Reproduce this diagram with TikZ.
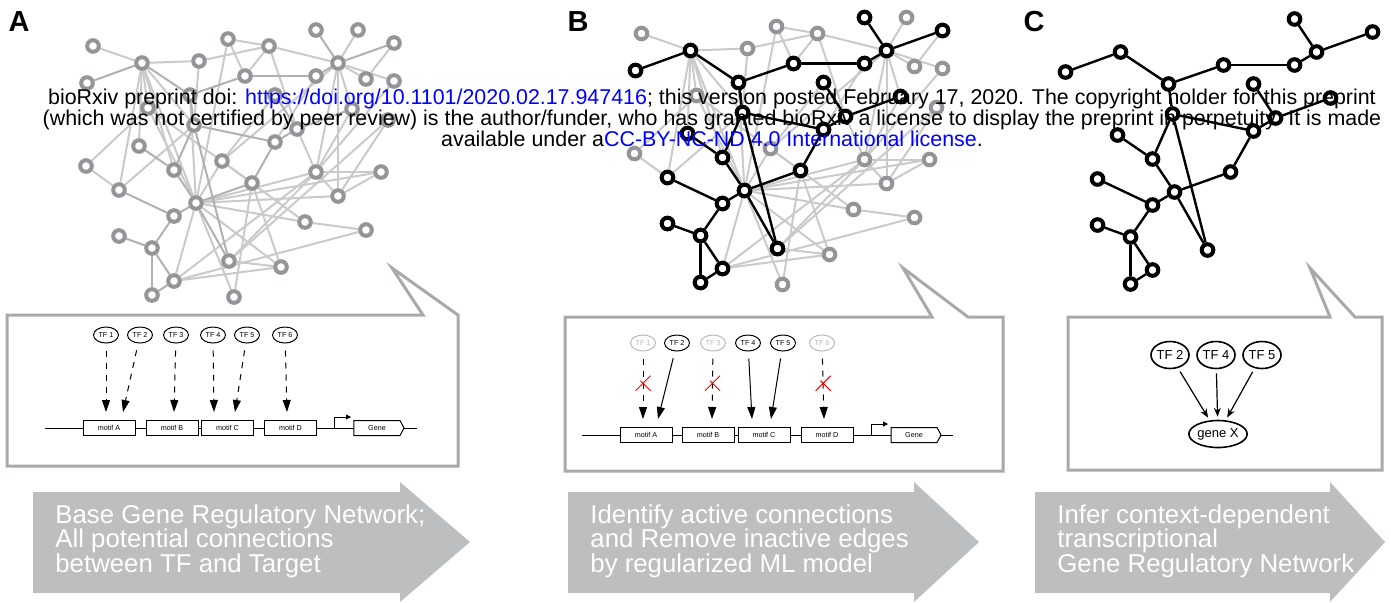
\documentclass[tikz,border=0pt]{standalone}
\usepackage{fontspec}
\setmainfont{Liberation Sans}
\usetikzlibrary{shapes.geometric,shapes.symbols,shapes.misc,arrows.meta}
\pgfdeclarelayer{bg}
\pgfsetlayers{bg,main}
\definecolor{nodegrey}{HTML}{939598}
\definecolor{edgegrey}{HTML}{CACACA}
\definecolor{edgedark}{HTML}{B0B1B3}
\definecolor{boxgrey}{HTML}{A7A9AC}
\definecolor{arrowgrey}{HTML}{BCBEC0}
\definecolor{tfgrey}{HTML}{B8B8B8}
\def\netpos{1/93/46,2/142/63,3/87/83,4/199/61,5/228/39,6/269/46,7/245/76,8/190/95,
  9/316/30,10/358/30,11/394/43,12/338/63,13/316/76,14/366/79,15/394/81,16/148/108,
  17/275/95,18/352/109,19/194/125,20/297/129,21/275/142,22/388/120,23/139/146,
  24/86/166,25/222/161,26/174/170,27/316/172,28/381/172,29/252/183,30/119/190,
  31/196/203,32/338/196,33/174/216,34/305/222,35/366/230,36/119/236,37/152/248,
  38/229/261,39/281/267,40/174/281,41/152/295,42/234/297}
\def\greyedges{1/2,2/4,2/16,2/23,2/26,2/30,2/31,2/19,4/19,4/6,5/6,5/7,5/31,6/7,
  6/12,6/20,10/12,11/14,12/14,12/15,12/18,12/25,12/27,12/32,15/27,16/24,16/31,
  16/29,17/25,18/27,22/32,22/38,24/30,30/19,25/31,25/34,27/28,27/32,28/32,28/31,
  27/31,31/32,31/34,31/39,31/42,31/40,29/39,34/35,35/40,38/39,38/27,40/39,40/27,
  42/29,13/21,8/31,20/27}
\def\blackedges{9/12,12/11,12/13,13/7,7/8,8/2,2/3,8/19,19/38,19/26,19/21,17/20,
  20/18,20/21,21/29,29/31,31/26,31/38,23/26,31/33,30/33,33/37,36/37,37/40,37/41,40/41}
\def\blacknodes{2,3,7,8,9,11,12,13,17,18,19,20,21,23,26,29,30,31,33,36,37,38,40,41}

\tikzset{
  greynode/.style={circle,draw=nodegrey,line width=2pt,fill=white,inner sep=0pt,minimum size=5.8pt},
  blacknode/.style={circle,draw=black,line width=2pt,fill=white,inner sep=0pt,minimum size=5.8pt},
  greyedge/.style={draw=edgegrey,line width=1pt},
  blackedge/.style={draw=black,line width=1.2pt},
  callout/.style={draw=boxgrey,line width=1.5pt,line join=miter},
  tf/.style={ellipse,draw,line width=0.5pt,inner sep=0pt,minimum width=12.5pt,minimum height=8pt,
    font=\fontsize{3.6}{4}\selectfont},
  tfoff/.style={tf,draw=tfgrey,text=tfgrey},
  motif/.style={draw,fill=white,line width=0.5pt,inner sep=0pt,minimum width=26pt,minimum height=7.5pt,
    font=\fontsize{3.6}{4}\selectfont},
  gene/.style={signal,signal to=east,signal pointer angle=124,draw,fill=white,line width=0.5pt,
    inner sep=0pt,minimum width=25pt,minimum height=7.5pt,font=\fontsize{3.6}{4}\selectfont},
  dna/.style={line width=0.5pt},
  tfarrow/.style={line width=0.5pt,-{Triangle[length=6pt,width=4pt]},shorten <=3.5pt},
  xmark/.style={cross out,solid,draw=red,line width=0.5pt,inner sep=0pt,minimum size=7pt},
  tfbig/.style={ellipse,draw,line width=0.8pt,inner sep=0pt,minimum width=19pt,minimum height=13.5pt,
    font=\fontsize{6.5}{7}\selectfont},
  panel/.style={font=\fontsize{14.5}{16}\selectfont\bfseries},
  steptext/.style={anchor=west,align=left,text=white,inner sep=0pt,font=\fontsize{12.9}{12.25}\selectfont}
}

\begin{document}
\begin{tikzpicture}[x=0.5pt,y=-0.5pt]
  \useasboundingbox (0,0) rectangle (1391,602);

  \foreach \i/\x/\y in \netpos \node[greynode] (a\i) at (\x,\y) {};
  \foreach \i/\x/\y in \netpos \node[greynode] (b\i) at (\x+548.5,\y-12.5) {};
  \foreach \i in \blacknodes \node[blacknode] (b\i) at (b\i) {};
  \foreach \i/\x/\y in \netpos \coordinate (cc\i) at (\x+978.5,\y-11);
  \foreach \i in \blacknodes \node[blacknode] (c\i) at (cc\i) {};
  \begin{pgfonlayer}{bg}
    \foreach \u/\v in \greyedges \draw[greyedge] (a\u) -- (a\v);
    \foreach \u/\v in \blackedges \draw[greyedge,draw=edgedark] (a\u) -- (a\v);
    \foreach \u/\v in \greyedges \draw[greyedge] (b\u) -- (b\v);
    \foreach \u/\v in \blackedges \draw[blackedge] (b\u) -- (b\v);
    \foreach \u/\v in \blackedges \draw[blackedge] (c\u) -- (c\v);
  \end{pgfonlayer}

  \node[panel] (la) at (19,22) {A};
  \node[panel] (lb) at (578,22) {B};
  \node[panel] (lc) at (1034,22) {C};

  \draw[callout] (7,315) -- (423,315) -- (392,268) -- (458,315) -- (458,466) -- (7,466) -- cycle;
  \draw[callout] (565,317) -- (932,317) -- (903,268) -- (968,317) -- (1003,317) -- (1003,471) -- (565,471) -- cycle;
  \draw[callout] (1068,317) -- (1330,317) -- (1310,268) -- (1355,317) -- (1382,317) -- (1382,470) -- (1068,470) -- cycle;

  \coordinate (dnaa0) at (45,428);
  \coordinate (dnaa1) at (417,428);
  \draw[dna] (dnaa0) -- (dnaa1);
  \node[motif] (ma1) at (109,428) {motif A};
  \node[motif] (ma2) at (172,428) {motif B};
  \node[motif] (ma3) at (227.5,428) {motif C};
  \node[motif] (ma4) at (290.5,428) {motif D};
  \coordinate (pa) at (334,428);
  \draw[dna,-{Triangle[length=2.5pt,width=2.5pt]}] (pa) |- ++(17,-11);
  \node[gene] (ga) at (377,428) {Gene};
  \node[tf] (ta1) at (106,335) {TF 1};
  \node[tf] (ta2) at (140,335) {TF 2};
  \node[tf] (ta3) at (176,335) {TF 3};
  \node[tf] (ta4) at (213,335) {TF 4};
  \node[tf] (ta5) at (247,335) {TF 5};
  \node[tf] (ta6) at (285,335) {TF 6};
  \draw[tfarrow,dashed] (ta1) -- ([xshift=-1.5pt,yshift=4pt]ma1.north);
  \draw[tfarrow,dashed] (ta2) -- ([xshift=7pt,yshift=4pt]ma1.north);
  \draw[tfarrow,dashed] (ta3) -- ([xshift=1pt,yshift=4pt]ma2.north);
  \draw[tfarrow,dashed] (ta4) -- ([xshift=-6.75pt,yshift=4pt]ma3.north);
  \draw[tfarrow,dashed] (ta5) -- ([xshift=3.75pt,yshift=4pt]ma3.north);
  \draw[tfarrow,dashed] (ta6) -- ([xshift=-1.75pt,yshift=4pt]ma4.north);

  \coordinate (dnab0) at (582,435);
  \coordinate (dnab1) at (953,435);
  \draw[dna] (dnab0) -- (dnab1);
  \node[motif] (mb1) at (646,435) {motif A};
  \node[motif] (mb2) at (708,435) {motif B};
  \node[motif] (mb3) at (764,435) {motif C};
  \node[motif] (mb4) at (827,435) {motif D};
  \coordinate (pb) at (871,435);
  \draw[dna,-{Triangle[length=2.5pt,width=2.5pt]}] (pb) |- ++(17,-11);
  \node[gene] (gb) at (914,435) {Gene};
  \node[tfoff] (tb1) at (643,343) {TF 1};
  \node[tf] (tb2) at (677,343) {TF 2};
  \node[tfoff] (tb3) at (713,343) {TF 3};
  \node[tf] (tb4) at (748,343) {TF 4};
  \node[tf] (tb5) at (783,343) {TF 5};
  \node[tfoff] (tb6) at (822,343) {TF 6};
  \draw[tfarrow,dashed] (tb1) -- ([xshift=-1.5pt,yshift=4pt]mb1.north) node[xmark,pos=0.47] (xb1) {};
  \draw[tfarrow] (tb2) -- ([xshift=6pt,yshift=4pt]mb1.north);
  \draw[tfarrow,dashed] (tb3) -- ([xshift=2pt,yshift=4pt]mb2.north) node[xmark,pos=0.47] (xb3) {};
  \draw[tfarrow] (tb4) -- ([xshift=-6pt,yshift=4pt]mb3.north);
  \draw[tfarrow] (tb5) -- ([xshift=3.5pt,yshift=4pt]mb3.north);
  \draw[tfarrow,dashed] (tb6) -- ([xshift=-1.5pt,yshift=4pt]mb4.north) node[xmark,pos=0.47] (xb6) {};

  \node[tfbig] (tc2) at (1170,355) {TF 2};
  \node[tfbig] (tc4) at (1216,355) {TF 4};
  \node[tfbig] (tc5) at (1262,355) {TF 5};
  \node[tfbig,minimum width=26pt] (gx) at (1218,434) {gene X};
  \foreach \t in {tc2,tc4,tc5}
    \draw[line width=0.6pt,-{Stealth[length=4.5pt,width=3.5pt]},shorten <=2pt,shorten >=1.5pt] (\t) -- (gx);

  \foreach \l/\m/\r in {33/400/470,568/914/979,1035/1330/1385}
    \fill[arrowgrey] (\l,492) -- (\m,492) -- (\m,482) -- (\r,542) -- (\m,602) -- (\m,593) -- (\l,593) -- cycle;
  \node[steptext] (sa) at (55,541) {Base Gene Regulatory Network;\\All potential connections\\between TF and Target};
  \node[steptext] (sb) at (590,541) {Identify active connections\\and Remove inactive edges\\by regularized ML model};
  \node[steptext] (sc) at (1057,541) {Infer context-dependent\\transcriptional\\Gene Regulatory Network};

  \node[align=center,inner sep=0pt,font=\fontsize{10.7}{10.5}\selectfont] (hdr) at (712,118)
    {bioRxiv preprint doi: \textcolor{blue}{https://doi.org/10.1101/2020.02.17.947416}; this version posted February 17, 2020. The copyright holder for this preprint\\
     (which was not certified by peer review) is the author/funder, who has granted bioRxiv a license to display the preprint in perpetuity. It is made\\
     available under a\textcolor{blue}{CC-BY-NC-ND 4.0 International license}.};
\end{tikzpicture}
\end{document}
